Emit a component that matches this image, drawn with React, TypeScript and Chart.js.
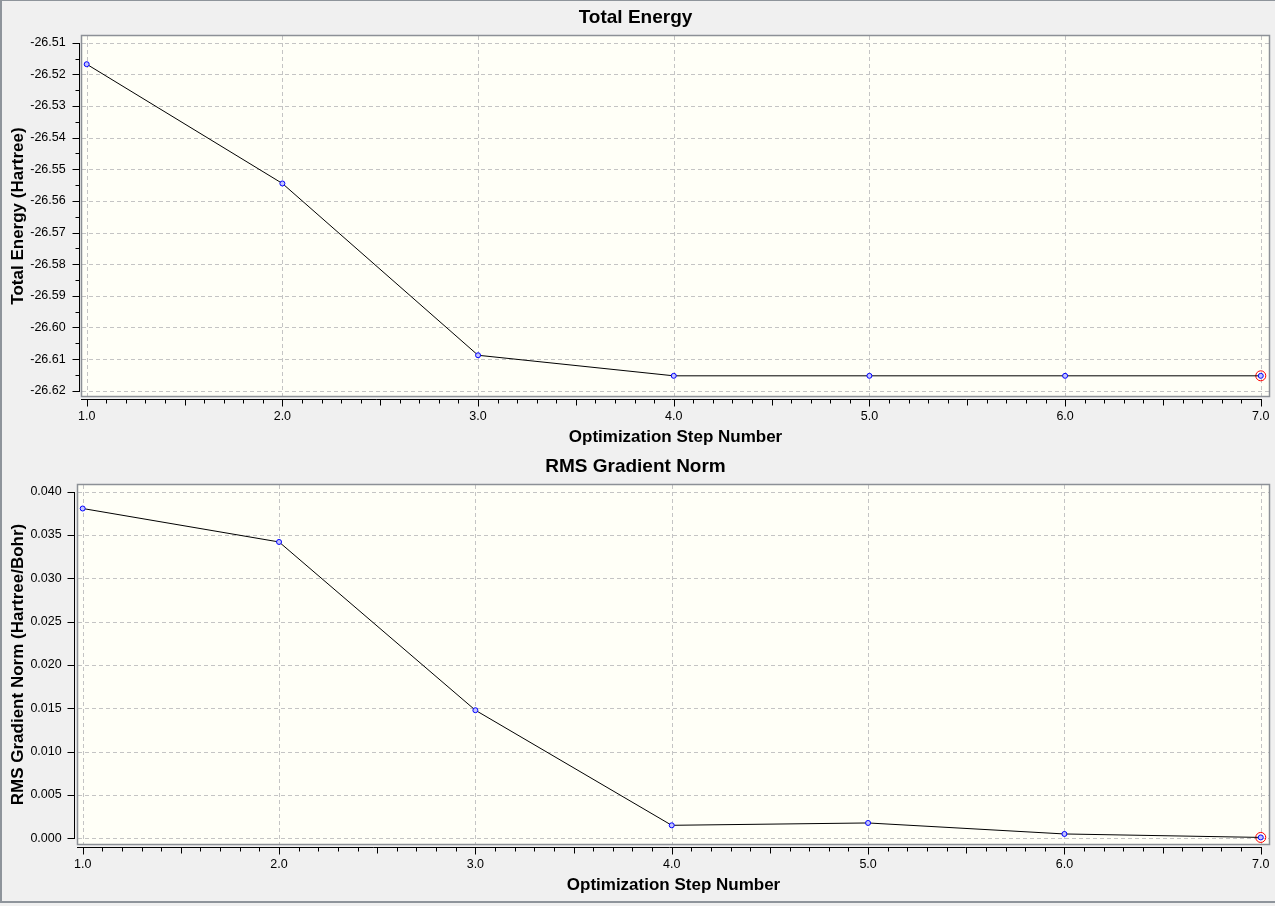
import { useEffect, useRef } from "react";
import { Chart, registerables } from "chart.js";

Chart.register(...registerables);

// data
const STEPS = [1, 2, 3, 4, 5, 6, 7];
const ENERGY = [-26.5168, -26.5545, -26.6088, -26.6153, -26.6153, -26.6153, -26.6153];
const GRADIENT = [0.03806, 0.0342, 0.01478, 0.0015, 0.00177, 0.0005, 0.0001];
const X_TICKS = [1, 2, 3, 4, 5, 6, 7];
const ENERGY_TICKS = [-26.51, -26.52, -26.53, -26.54, -26.55, -26.56, -26.57, -26.58, -26.59, -26.6, -26.61, -26.62];
const GRADIENT_TICKS = [0, 0.005, 0.01, 0.015, 0.02, 0.025, 0.03, 0.035, 0.04];

const FONT = "'Liberation Sans', Arial, sans-serif";
const PLOT_BG = "#fffff7";
const GRID = "#c4c4c4";
const PLOT_BORDER = "#8c9096";
const FRAME = "#8e949b";

type PanelProps = {
  title: string;
  yTitle: string;
  values: number[];
  yTicks: number[];
  decimals: number;
  xMin: number;
  xMax: number;
  yMin: number;
  yMax: number;
  height: number;
  yWidth: number;
  xHeight: number;
  titlePad: { top: number; bottom: number };
  xTitlePad: number;
  axisGap: number;
  yMinor: number;
};

function axesPlugin(axisGap: number, yMinor: number) {
  return {
    id: "plotFrame",
    beforeDatasetsDraw(chart: any) {
      const { ctx, chartArea: a } = chart;
      const xs = chart.scales.x;
      const ys = chart.scales.y;
      ctx.save();
      ctx.fillStyle = PLOT_BG;
      ctx.fillRect(a.left, a.top, a.right - a.left, a.bottom - a.top);

      // dashed grid at the major ticks
      ctx.strokeStyle = GRID;
      ctx.lineWidth = 1;
      ctx.setLineDash([4, 3]);
      ctx.beginPath();
      xs.ticks.forEach((t: any) => {
        const px = Math.round(xs.getPixelForValue(t.value)) + 0.5;
        ctx.moveTo(px, a.top);
        ctx.lineTo(px, a.bottom);
      });
      ys.ticks.forEach((t: any) => {
        const py = Math.round(ys.getPixelForValue(t.value)) + 0.5;
        ctx.moveTo(a.left, py);
        ctx.lineTo(a.right, py);
      });
      ctx.stroke();
      ctx.setLineDash([]);

      // plot border
      ctx.strokeStyle = PLOT_BORDER;
      ctx.lineWidth = 1.5;
      ctx.strokeRect(a.left - 0.5, a.top - 0.5, a.right - a.left + 1, a.bottom - a.top + 1);

      // detached axes with major and minor ticks
      ctx.strokeStyle = "#000";
      ctx.lineWidth = 1;
      const yTickVals = ys.ticks.map((t: any) => t.value);
      const xTickVals = xs.ticks.map((t: any) => t.value);
      const ax = a.left - axisGap - 0.5;
      const ay = a.bottom + 3.5;
      const yTop = Math.round(ys.getPixelForValue(Math.max(...yTickVals)));
      const yBot = Math.round(ys.getPixelForValue(Math.min(...yTickVals)));
      const xRight = Math.round(xs.getPixelForValue(Math.max(...xTickVals)));
      ctx.beginPath();
      ctx.moveTo(ax, yTop);
      ctx.lineTo(ax, yBot + 1);
      ctx.moveTo(a.left - 1, ay);
      ctx.lineTo(xRight + 1, ay);
      yTickVals.forEach((v: number) => {
        const py = Math.round(ys.getPixelForValue(v)) + 0.5;
        ctx.moveTo(ax, py);
        ctx.lineTo(ax - 7, py);
      });
      if (yMinor > 0) {
        const lo = Math.min(...yTickVals);
        const hi = Math.max(...yTickVals);
        for (let v = lo + yMinor; v < hi - yMinor / 2; v += 2 * yMinor) {
          const py = Math.round(ys.getPixelForValue(v)) + 0.5;
          ctx.moveTo(ax, py);
          ctx.lineTo(ax - 4, py);
        }
      }
      const x0 = Math.min(...xTickVals);
      const x1 = Math.max(...xTickVals);
      const n = Math.round((x1 - x0) * 10);
      for (let i = 0; i <= n; i++) {
        const px = Math.round(xs.getPixelForValue(x0 + i / 10)) + 0.5;
        const len = i % 10 === 0 ? 7 : i % 5 === 0 ? 6 : 4;
        ctx.moveTo(px, ay);
        ctx.lineTo(px, ay + len);
      }
      ctx.stroke();
      ctx.restore();
    },
  };
}

function Panel(p: PanelProps) {
  const canvasRef = useRef<HTMLCanvasElement | null>(null);

  useEffect(() => {
    if (!canvasRef.current) return;
    const points = STEPS.map((s, i) => ({ x: s, y: p.values[i] }));
    const last = points.length - 1;

    const chart = new Chart(canvasRef.current, {
      type: "line",
      data: {
        datasets: [
          {
            data: points,
            borderColor: "#000",
            borderWidth: 1,
            tension: 0,
            pointRadius: 2.5,
            pointBorderWidth: 1,
            pointBorderColor: "#0000ff",
            pointBackgroundColor: "#c4c4ff",
          },
          {
            // current step marker
            data: points.map((pt, i) => (i === last ? pt : { x: pt.x, y: null })),
            showLine: false,
            pointRadius: 5,
            pointBorderWidth: 1,
            pointBorderColor: "#ff0000",
            pointBackgroundColor: "rgba(0,0,0,0)",
          },
        ],
      },
      options: {
        responsive: false,
        animation: false,
        events: [],
        layout: { padding: { left: 0, right: 4, top: 0, bottom: 0 } },
        plugins: {
          legend: { display: false },
          tooltip: { enabled: false },
          title: {
            display: true,
            text: p.title,
            color: "#000",
            font: { family: FONT, size: 19, weight: "bold" },
            padding: p.titlePad,
          },
        },
        scales: {
          x: {
            type: "linear",
            min: p.xMin,
            max: p.xMax,
            grid: { display: false, drawTicks: false },
            border: { display: false },
            afterBuildTicks: (scale: any) => {
              scale.ticks = X_TICKS.map((v) => ({ value: v }));
            },
            afterFit: (scale: any) => {
              scale.height = p.xHeight;
              scale.paddingLeft = 0;
              scale.paddingRight = 0;
            },
            ticks: {
              color: "#000",
              padding: 13.2,
              maxRotation: 0,
              font: { family: FONT, size: 12.5 },
              callback: (v: any) => Number(v).toFixed(1),
            },
            title: {
              display: true,
              text: "Optimization Step Number",
              color: "#000",
              font: { family: FONT, size: 17, weight: "bold" },
              padding: { top: 0, bottom: p.xTitlePad },
            },
          },
          y: {
            type: "linear",
            min: p.yMin,
            max: p.yMax,
            grid: { display: false, drawTicks: false },
            border: { display: false },
            afterBuildTicks: (scale: any) => {
              scale.ticks = p.yTicks.map((v) => ({ value: v }));
            },
            afterFit: (scale: any) => {
              scale.width = p.yWidth;
              scale.paddingTop = 0;
              scale.paddingBottom = 0;
            },
            ticks: {
              color: "#000",
              padding: 16.3,
              font: { family: FONT, size: 12.5 },
              callback: (v: any) => Number(v).toFixed(p.decimals),
            },
            title: {
              display: true,
              text: p.yTitle,
              color: "#000",
              font: { family: FONT, size: 17, weight: "bold" },
              padding: { top: 8, bottom: 0 },
            },
          },
        },
      } as any,
      plugins: [axesPlugin(p.axisGap, p.yMinor)],
    });

    return () => {
      chart.destroy();
    };
  }, []);

  return <canvas ref={canvasRef} width={1275} height={p.height} style={{ display: "block" }} />;
}

export default function App() {
  return (
    <div
      style={{
        position: "fixed",
        left: 0,
        top: 0,
        width: 1275,
        height: 906,
        background: "#f0f0f0",
        overflow: "hidden",
      }}
    >
      <div style={{ position: "absolute", left: 0, top: 0, width: 1275, height: 1, background: FRAME }} />
      <div style={{ position: "absolute", left: 0, top: 0, width: 2, height: 903, background: FRAME }} />
      <div style={{ position: "absolute", left: 0, top: 901, width: 1275, height: 2, background: FRAME }} />
      <div style={{ position: "absolute", left: 0, top: 0 }}>
        <Panel
          title="Total Energy"
          yTitle="Total Energy (Hartree)"
          values={ENERGY}
          yTicks={ENERGY_TICKS}
          decimals={2}
          xMin={0.976}
          xMax={7.042}
          yMin={-26.62168}
          yMax={-26.50788}
          height={450}
          yWidth={82}
          xHeight={54}
          titlePad={{ top: 6.6, bottom: 6.6 }}
          xTitlePad={2.8}
          axisGap={2}
          yMinor={0.005}
        />
      </div>
      <div style={{ position: "absolute", left: 0, top: 450 }}>
        <Panel
          title="RMS Gradient Norm"
          yTitle="RMS Gradient Norm (Hartree/Bohr)"
          values={GRADIENT}
          yTicks={GRADIENT_TICKS}
          decimals={3}
          xMin={0.9761}
          xMax={7.042}
          yMin={-0.000658}
          yMax={0.040773}
          height={456}
          yWidth={78}
          xHeight={62}
          titlePad={{ top: 5.1, bottom: 7.1 }}
          xTitlePad={10.3}
          axisGap={3}
          yMinor={0}
        />
      </div>
    </div>
  );
}
